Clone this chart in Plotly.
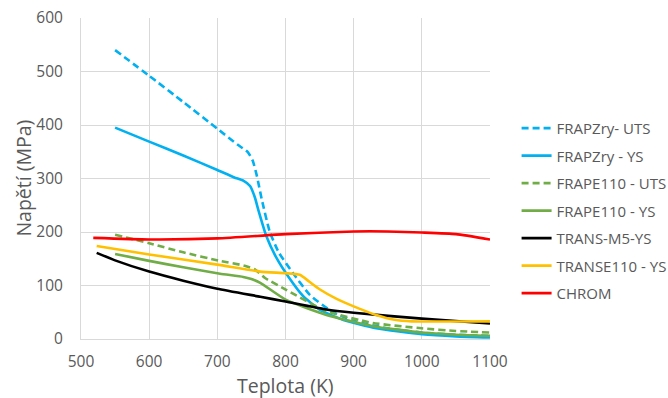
import plotly.graph_objects as go

# FRAPZry - UTS
x_frapzry_uts = [550, 600, 650, 700, 730, 745, 752, 758, 765, 777, 790, 810, 836, 870, 900, 950, 1000, 1050, 1100]
y_frapzry_uts = [540, 492, 443, 393, 363, 349, 333, 305, 262, 200, 162, 125, 82, 50, 34, 20, 12, 8, 6]
# FRAPZry - YS
x_frapzry_ys = [550, 600, 650, 700, 725, 738, 748, 755, 760, 772, 787, 805, 826, 850, 884, 933, 1000, 1050, 1100]
y_frapzry_ys = [395, 369, 343, 316, 302, 296, 286, 265, 242, 192, 151, 115, 80, 55, 36, 20, 9, 5, 3]
# FRAPE110 - UTS
x_frape_uts = [550, 600, 650, 704, 740, 755, 770, 801, 860, 928, 1000, 1050, 1100]
y_frape_uts = [195, 179, 162, 146, 137, 130, 114, 92, 52, 30, 20, 15, 12]
# FRAPE110 - YS
x_frape_ys = [550, 600, 650, 704, 738, 750, 763, 801, 860, 928, 1000, 1050, 1100]
y_frape_ys = [159, 146, 134, 122, 116, 112, 105, 73, 45, 24, 12, 8, 6]
# TRANS-M5-YS
x_trans_m5 = [523, 550, 600, 650, 700, 763, 800, 860, 900, 1000, 1100]
y_trans_m5 = [161, 147, 126, 109, 94, 79, 70, 55, 49, 38, 29]
# TRANSE110 - YS
x_transe = [523, 600, 700, 763, 800, 821, 835, 850, 875, 900, 933, 960, 985, 1100]
y_transe = [174, 158, 139, 126, 123, 120, 107, 93, 75, 61, 45, 36, 33, 33]
# CHROM
x_chrom = [518, 600, 700, 800, 900, 950, 1000, 1050, 1100]
y_chrom = [189, 186, 188, 196, 201, 201, 199, 196, 186]

x_ticks = [500, 600, 700, 800, 900, 1000, 1100]
y_ticks = [0, 100, 200, 300, 400, 500, 600]

series = [
    ("FRAPZry- UTS", x_frapzry_uts, y_frapzry_uts, "#00B0F0", "7px,4px"),
    ("FRAPZry - YS", x_frapzry_ys, y_frapzry_ys, "#00B0F0", "solid"),
    ("FRAPE110 - UTS", x_frape_uts, y_frape_uts, "#70AD47", "7px,4px"),
    ("FRAPE110 - YS", x_frape_ys, y_frape_ys, "#70AD47", "solid"),
    ("TRANS-M5-YS", x_trans_m5, y_trans_m5, "#000000", "solid"),
    ("TRANSE110 - YS", x_transe, y_transe, "#FFC000", "solid"),
    ("CHROM", x_chrom, y_chrom, "#FF0000", "solid"),
]

fig = go.Figure()
for i, (name, xs, ys, col, dash) in enumerate(series):
    fig.add_trace(go.Scatter(
        x=xs, y=ys, mode="lines", name=name, legendgroup=str(i),
        line=dict(color=col, width=2.6, dash=dash, shape="spline", smoothing=0.5),
    ))

grey = "#595959"
fig.update_layout(
    width=668, height=398,
    margin=dict(l=81, r=178, t=18, b=59, autoexpand=False),
    paper_bgcolor="white", plot_bgcolor="white",
    font=dict(family="Open Sans, Liberation Sans, sans-serif", color=grey),
    legend=dict(x=1.065, y=0.7075, xanchor="left", yanchor="top",
                font=dict(size=15, color=grey), tracegroupgap=5, itemwidth=30,
                bgcolor="rgba(0,0,0,0)"),
    showlegend=True,
)
fig.update_xaxes(
    range=[500, 1100], tickvals=x_ticks, ticktext=[str(v) for v in x_ticks],
    showgrid=True, gridcolor="#D9D9D9", gridwidth=1,
    showline=True, linecolor="#D9D9D9", linewidth=1,
    zeroline=False, ticks="", tickfont=dict(size=15.5, color=grey),
    ticklabelstandoff=8, automargin=False,
)
fig.update_yaxes(
    range=[0, 600], tickvals=y_ticks, ticktext=[str(v) for v in y_ticks],
    showgrid=True, gridcolor="#D9D9D9", gridwidth=1,
    showline=True, linecolor="#D9D9D9", linewidth=1,
    zeroline=False, ticks="", tickfont=dict(size=15.5, color=grey),
    ticklabelstandoff=14, automargin=False,
)
fig.add_annotation(text="Teplota (K)", xref="paper", yref="paper",
                   x=0.5, y=-0.145, xanchor="center", yanchor="middle",
                   showarrow=False, font=dict(size=19.5, color=grey))
fig.add_annotation(text="Napětí (MPa)", xref="paper", yref="paper",
                   x=-0.1416, y=0.5, xanchor="center", yanchor="middle",
                   textangle=-90, showarrow=False, font=dict(size=19.5, color=grey))
fig.write_html("out.html", config={"displayModeBar": False},
               post_script="document.body.style.margin='0px';")
